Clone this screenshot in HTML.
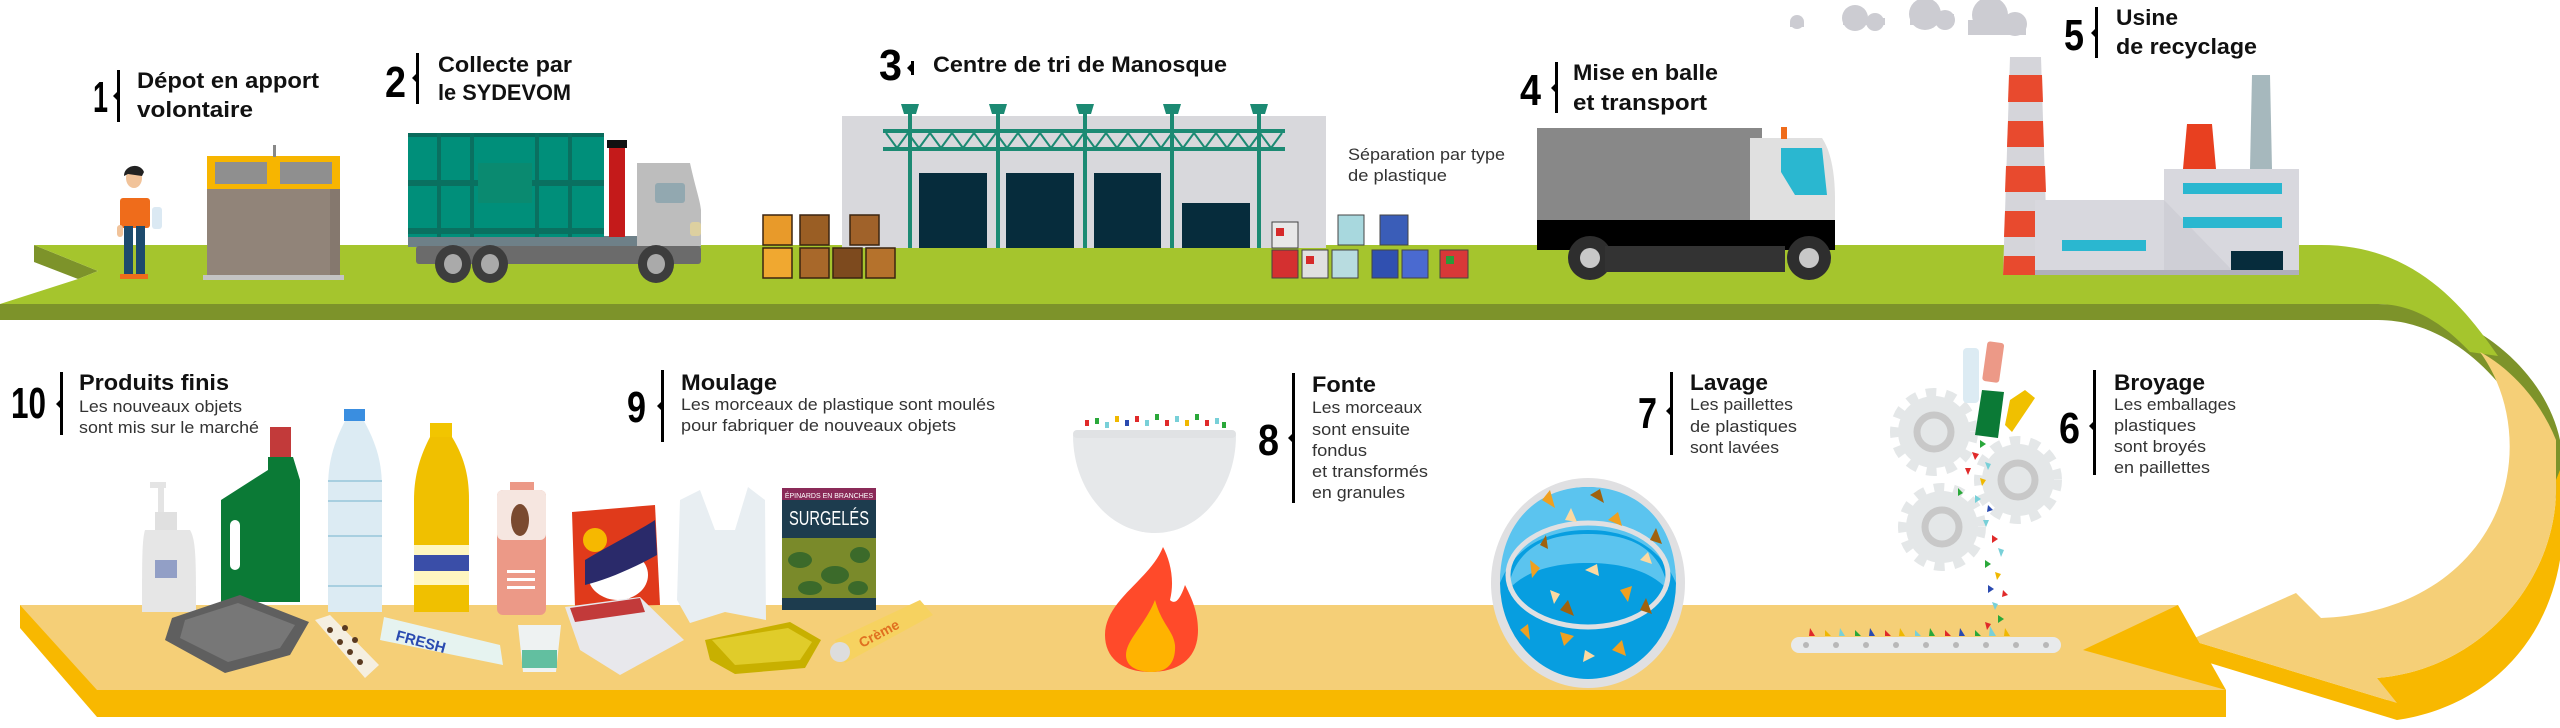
<!DOCTYPE html>
<html><head><meta charset="utf-8"><style>
html,body{margin:0;padding:0;background:#fff;}
svg{display:block;}
text{font-family:"Liberation Sans",sans-serif;}
.t{font-weight:bold;font-size:22px;fill:#111;}
.n{font-weight:bold;font-size:44px;fill:#000;}
.b{font-size:17px;fill:#333;}
</style></head><body>
<svg width="2560" height="728" viewBox="0 0 2560 728" xmlns="http://www.w3.org/2000/svg">

<!-- ===== GREEN BAND ===== -->
<path d="M0,304 L2378,304 C2470,304 2545,370 2560,440 L2560,520 C2545,420 2470,320 2378,320 L0,320 Z" fill="#7d932a"/>
<path d="M34,245 L98,271 L78,279 L34,262 Z" fill="#7d932a"/>
<path d="M34,245 L2321,245 C2410,245 2460,300 2498,356 L2470,352 C2440,320 2410,304 2378,304 L0,304 L78,279 L98,271 Z" fill="#a5c52d"/>

<!-- ===== YELLOW ARROW ===== -->
<path d="M2377,678 C2480,670 2560,580 2556,480 L2560,470 L2560,560 C2545,650 2480,708 2397,720 Z" fill="#f8b800"/>
<path d="M2190,640 L2190,657 L2397,720 L2397,703 Z" fill="#f8b800"/>
<path d="M2480,352 C2515,400 2520,470 2490,525 C2460,580 2400,615 2321,618 L2296,593 L2190,640 L2397,703 L2377,678 C2480,670 2560,580 2556,480 L2556,440 C2540,400 2510,368 2480,352 Z" fill="#f5cf77"/>

<!-- ===== YELLOW BAND ===== -->
<path d="M20,605 L20,628 L97,717 L2226,717 L2226,690 L2178,605 Z" fill="#f8b800"/>
<path d="M20,605 L2178,605 L2083,650 L2226,690 L97,690 Z" fill="#f5cf77"/>

<!-- ===== STEP 1 ===== -->
<rect x="207" y="156" width="133" height="123" fill="#918479"/>
<rect x="330" y="156" width="10" height="123" fill="#85786e"/>
<rect x="207" y="156" width="133" height="33" fill="#f7b500"/>
<rect x="215" y="162" width="52" height="22" fill="#8f8f8f"/>
<rect x="280" y="162" width="52" height="22" fill="#8f8f8f"/>
<rect x="273" y="145" width="3" height="12" fill="#888"/>
<rect x="203" y="275" width="141" height="5" fill="#c4c4c4"/>
<ellipse cx="134" cy="178" rx="8" ry="10" fill="#f1c39a"/>
<path d="M124,176 C124,165 140,162 144,172 L142,176 L128,174 Z" fill="#222"/>
<rect x="120" y="198" width="30" height="30" rx="3" fill="#ef6c1b"/>
<rect x="124" y="226" width="9" height="50" fill="#1d4a6d"/>
<rect x="136" y="226" width="9" height="50" fill="#1d4a6d"/>
<rect x="120" y="274" width="14" height="5" fill="#ef6c1b"/>
<rect x="134" y="274" width="14" height="5" fill="#ef6c1b"/>
<rect x="152" y="207" width="10" height="22" rx="3" fill="#dbe9f3"/>
<rect x="117" y="225" width="6" height="12" rx="3" fill="#f1c39a"/>

<!-- ===== STEP 2 truck ===== -->
<rect x="408" y="236" width="293" height="11" fill="#6e8088"/>
<rect x="416" y="246" width="285" height="18" rx="3" fill="#6b6b6b"/>
<rect x="408" y="133" width="196" height="104" fill="#008f7a"/>
<rect x="408" y="133" width="196" height="4" fill="#0a6b5c"/>
<g fill="#0a7060">
<rect x="437" y="133" width="4" height="104"/><rect x="470" y="133" width="4" height="104"/>
<rect x="535" y="133" width="4" height="104"/><rect x="568" y="133" width="4" height="104"/>
<rect x="408" y="180" width="196" height="6" /><rect x="408" y="228" width="196" height="6"/>
</g>
<rect x="478" y="163" width="54" height="40" fill="#0a8a70"/>
<rect x="609" y="145" width="16" height="92" fill="#c41a1a"/>
<rect x="607" y="140" width="20" height="8" fill="#111"/>
<path d="M637,163 L690,163 C696,190 700,200 701,210 L701,246 L637,246 Z" fill="#bdbdbd"/>
<rect x="655" y="183" width="30" height="20" rx="3" fill="#92a8b0"/>
<rect x="690" y="222" width="11" height="14" rx="3" fill="#ddd0a0"/>
<g fill="#3d3d3d"><ellipse cx="453" cy="264" rx="18" ry="19"/><ellipse cx="490" cy="264" rx="18" ry="19"/><ellipse cx="656" cy="264" rx="18" ry="19"/></g>
<g fill="#aaa"><ellipse cx="453" cy="264" rx="9" ry="10"/><ellipse cx="490" cy="264" rx="9" ry="10"/><ellipse cx="656" cy="264" rx="9" ry="10"/></g>

<!-- ===== STEP 3 building ===== -->
<rect x="842" y="116" width="484" height="132" fill="#d8d8dc"/>
<g fill="#062c3c">
<rect x="919" y="173" width="68" height="75"/><rect x="1006" y="173" width="68" height="75"/>
<rect x="1094" y="173" width="67" height="75"/><rect x="1182" y="203" width="68" height="45"/>
</g>
<g fill="#1c8a73">
<rect x="883" y="129" width="402" height="4"/><rect x="883" y="147" width="402" height="4"/>
<rect x="908" y="105" width="4" height="143"/><rect x="996" y="105" width="4" height="143"/>
<rect x="1083" y="105" width="4" height="143"/><rect x="1170" y="105" width="4" height="143"/>
<rect x="1257" y="105" width="4" height="143"/>
<path d="M901,104 h18 l-3,10 h-12 z M989,104 h18 l-3,10 h-12 z M1076,104 h18 l-3,10 h-12 z M1163,104 h18 l-3,10 h-12 z M1250,104 h18 l-3,10 h-12 z"/>
</g>
<polyline points="886,133 897,148 908,133 919,148 930,133 941,148 952,133 963,148 974,133 985,148 996,133 1007,148 1018,133 1029,148 1040,133 1051,148 1062,133 1073,148 1084,133 1095,148 1106,133 1117,148 1128,133 1139,148 1150,133 1161,148 1172,133 1183,148 1194,133 1205,148 1216,133 1227,148 1238,133 1249,148 1260,133 1271,148 1282,133" fill="none" stroke="#1c8a73" stroke-width="2"/>
<g stroke="#3b2410" stroke-width="1.5">
<rect x="763" y="215" width="29" height="30" fill="#e89a2a"/><rect x="800" y="215" width="29" height="30" fill="#9a5e24"/><rect x="850" y="215" width="29" height="30" fill="#a0622a"/>
<rect x="763" y="248" width="29" height="30" fill="#f0a830"/><rect x="800" y="248" width="29" height="30" fill="#a8682a"/><rect x="833" y="248" width="29" height="30" fill="#7d4a1e"/><rect x="866" y="248" width="29" height="30" fill="#b5722c"/>
</g>
<g stroke="#444" stroke-width="1">
<rect x="1272" y="222" width="26" height="26" fill="#e8e8e8"/><rect x="1338" y="215" width="26" height="30" fill="#a8d8de"/><rect x="1380" y="215" width="28" height="30" fill="#3a5db8"/>
<rect x="1272" y="250" width="26" height="28" fill="#d43030"/><rect x="1302" y="250" width="26" height="28" fill="#e0e0e0"/><rect x="1332" y="250" width="26" height="28" fill="#b8dce0"/><rect x="1372" y="250" width="26" height="28" fill="#3050b0"/><rect x="1402" y="250" width="26" height="28" fill="#4a6ad0"/><rect x="1440" y="250" width="28" height="28" fill="#d83838"/>
</g>
<g fill="#d62a2a"><rect x="1276" y="228" width="8" height="8"/><rect x="1306" y="256" width="8" height="8"/><rect x="1446" y="256" width="8" height="8" fill="#2a9a3a"/></g>

<!-- ===== STEP 4 truck ===== -->
<rect x="1537" y="128" width="225" height="92" fill="#888"/>
<path d="M1750,138 L1822,138 C1830,150 1835,170 1835,200 L1835,246 L1750,246 Z" fill="#e0e0e0"/>
<path d="M1781,148 L1822,148 L1827,195 L1795,195 L1781,172 Z" fill="#2ab7d0"/>
<rect x="1781" y="127" width="6" height="12" fill="#ef6c1b"/>
<rect x="1537" y="220" width="298" height="30" fill="#000"/>
<g fill="#2e2e2e"><circle cx="1590" cy="258" r="22"/><circle cx="1809" cy="258" r="22"/></g>
<g fill="#c8c8c8"><circle cx="1590" cy="258" r="10"/><circle cx="1809" cy="258" r="10"/></g>
<rect x="1605" y="246" width="180" height="26" fill="#333"/>

<!-- ===== STEP 5 factory ===== -->
<g fill="#ccccd2">
<circle cx="1797" cy="22" r="7"/><rect x="1790" y="22" width="14" height="5"/>
<circle cx="1855" cy="18" r="13"/><circle cx="1875" cy="22" r="9"/><rect x="1843" y="18" width="42" height="7"/>
<circle cx="1925" cy="14" r="16"/><circle cx="1945" cy="20" r="10"/><rect x="1910" y="14" width="44" height="11"/>
<circle cx="1990" cy="15" r="18"/><circle cx="2015" cy="24" r="12"/><rect x="1968" y="20" width="58" height="15"/>
</g>
<path d="M2010,57 L2041,57 L2048,275 L2003,275 Z" fill="#d5d5da"/>
<g fill="#e84a2e">
<path d="M2009,75 L2042,75 L2043,102 L2008,102 Z"/><path d="M2008,121 L2043,121 L2044,147 L2007,147 Z"/>
<path d="M2006,166 L2045,166 L2046,192 L2005,192 Z"/><path d="M2005,211 L2046,211 L2047,237 L2004,237 Z"/>
<path d="M2004,256 L2047,256 L2048,275 L2003,275 Z"/>
</g>
<rect x="2035" y="200" width="129" height="75" fill="#d8d8de"/>
<rect x="2164" y="169" width="135" height="106" fill="#d8d8de"/>
<path d="M2164,200 L2230,268 L2230,275 L2164,275 Z" fill="#cfcfd6"/>
<path d="M2187,124 L2212,124 L2216,169 L2183,169 Z" fill="#e84020"/>
<path d="M2252,75 L2270,75 L2272,169 L2250,169 Z" fill="#a6b8bd"/>
<g fill="#2ab7d0"><rect x="2183" y="183" width="99" height="11"/><rect x="2183" y="217" width="99" height="11"/><rect x="2062" y="240" width="84" height="11"/></g>
<rect x="2231" y="251" width="52" height="24" fill="#062c3c"/>
<rect x="2035" y="270" width="264" height="5" fill="#b0b0b8"/>

<!-- ===== BOTTOM PRODUCTS ===== -->
<rect x="158" y="482" width="6" height="30" fill="#e4e4e4"/><rect x="150" y="482" width="16" height="6" fill="#e4e4e4"/>
<rect x="155" y="512" width="22" height="18" fill="#e0e0e0"/>
<path d="M145,530 L190,530 C196,540 196,560 196,612 L142,612 C142,560 142,540 145,530 Z" fill="#e6e6e6"/>
<rect x="155" y="560" width="22" height="18" fill="#5a70b0" opacity="0.6"/>
<rect x="270" y="427" width="21" height="30" fill="#c23a3a"/>
<path d="M268,457 L293,457 L300,480 L300,602 L221,602 L221,500 L268,470 Z" fill="#0b7a36"/>
<rect x="230" y="520" width="10" height="50" rx="5" fill="#fff"/>
<rect x="344" y="409" width="21" height="12" fill="#3a8ee0"/>
<path d="M345,421 L364,421 C380,450 382,470 382,490 L382,612 L328,612 L328,490 C328,470 330,450 345,421 Z" fill="#dcebf3"/>
<g fill="#a8cfe0"><rect x="328" y="480" width="54" height="2"/><rect x="328" y="500" width="54" height="2"/><rect x="328" y="535" width="54" height="2"/><rect x="328" y="585" width="54" height="2"/></g>
<rect x="430" y="423" width="22" height="14" fill="#f2c500"/>
<path d="M430,437 L452,437 C466,460 469,480 469,500 L469,612 L414,612 L414,500 C414,480 418,460 430,437 Z" fill="#f0c000"/>
<rect x="414" y="545" width="55" height="40" fill="#fff6c0"/><rect x="414" y="555" width="55" height="16" fill="#3a4ea8"/>
<rect x="510" y="482" width="24" height="12" fill="#ec9987"/>
<rect x="497" y="490" width="49" height="125" rx="6" fill="#ec9987"/>
<rect x="497" y="490" width="49" height="50" rx="6" fill="#f6e6e0"/>
<ellipse cx="520" cy="520" rx="9" ry="16" fill="#7a4a30"/>
<g fill="#fff"><rect x="507" y="570" width="28" height="3"/><rect x="507" y="578" width="28" height="3"/><rect x="507" y="586" width="28" height="3"/></g>
<path d="M572,512 L655,505 L660,605 L575,607 Z" fill="#e03a1b"/>
<ellipse cx="618" cy="575" rx="30" ry="25" fill="#fff"/>
<path d="M585,560 C610,545 640,530 655,520 L657,555 C630,570 605,580 585,585 Z" fill="#2a2a6a"/>
<circle cx="595" cy="540" r="12" fill="#f6b800"/>
<path d="M680,500 L700,490 L715,530 L735,530 L748,487 L765,500 L766,620 L725,612 L690,623 L677,600 Z" fill="#e8eef2"/>
<rect x="782" y="488" width="94" height="122" fill="#7a8a2a"/>
<rect x="782" y="488" width="94" height="50" fill="#1d3c4e"/>
<rect x="782" y="488" width="94" height="12" fill="#8a2a58"/>
<rect x="782" y="598" width="94" height="12" fill="#1d3c4e"/>
<g fill="#3b6a2a"><ellipse cx="800" cy="560" rx="12" ry="8"/><ellipse cx="835" cy="575" rx="14" ry="9"/><ellipse cx="860" cy="555" rx="10" ry="8"/><ellipse cx="810" cy="588" rx="12" ry="7"/><ellipse cx="858" cy="588" rx="10" ry="7"/></g>
<text x="829" y="525" font-size="20" fill="#fff" text-anchor="middle" textLength="80" lengthAdjust="spacingAndGlyphs">SURGELÉS</text>
<text x="829" y="498" font-size="7" fill="#fff" text-anchor="middle">ÉPINARDS EN BRANCHES</text>
<path d="M172,618 L240,595 L309,622 L290,655 L225,673 L165,640 Z" fill="#5f5f5f"/>
<path d="M185,620 L238,603 L295,625 L280,648 L228,662 L180,638 Z" fill="#777"/>
<path d="M315,620 L330,615 L379,665 L365,678 Z" fill="#f5efe0"/>
<g fill="#5a3a20"><circle cx="330" cy="630" r="3"/><circle cx="340" cy="642" r="3"/><circle cx="350" cy="652" r="3"/><circle cx="360" cy="662" r="3"/><circle cx="345" cy="628" r="3"/><circle cx="355" cy="640" r="3"/></g>
<path d="M384,617 L500,645 L503,665 L380,640 Z" fill="#e6f3f0"/>
<text x="395" y="640" font-size="15" font-weight="bold" fill="#2a4ab0" transform="rotate(15 395 640)">FRESH</text>
<path d="M518,625 L561,625 L556,672 L523,672 Z" fill="#eef2f2"/>
<rect x="522" y="650" width="35" height="18" fill="#62bfa0"/>
<path d="M565,607 L640,597 L684,640 L620,675 L580,650 Z" fill="#e8e8ec"/>
<path d="M570,608 L640,598 L645,612 L575,622 Z" fill="#c23a3a"/>
<path d="M705,640 L790,622 L821,640 L805,668 L735,674 L710,660 Z" fill="#c8b000"/>
<path d="M712,640 L788,628 L812,642 L800,660 L735,665 Z" fill="#e0cc2a"/>
<path d="M835,640 L920,600 L933,615 L845,663 Z" fill="#f6d260"/>
<circle cx="840" cy="652" r="10" fill="#ddd"/>
<text x="862" y="648" font-size="14" font-weight="bold" fill="#e07020" transform="rotate(-28 862 648)">Crème</text>

<!-- ===== STEP 8 ===== -->
<path d="M1073,435 L1236,435 C1236,490 1200,533 1155,533 C1110,533 1073,490 1073,435 Z" fill="#e6e8ea"/>
<rect x="1073" y="430" width="163" height="8" rx="4" fill="#e0e2e4"/>
<g>
<rect x="1085" y="420" width="4" height="6" fill="#e02a2a"/><rect x="1095" y="418" width="4" height="6" fill="#2aa83a"/><rect x="1105" y="422" width="4" height="6" fill="#78d0d8"/><rect x="1115" y="416" width="4" height="6" fill="#f0b800"/><rect x="1125" y="420" width="4" height="6" fill="#2a4ab0"/><rect x="1135" y="416" width="4" height="6" fill="#e02a2a"/><rect x="1145" y="420" width="4" height="6" fill="#78d0d8"/><rect x="1155" y="414" width="4" height="6" fill="#2aa83a"/><rect x="1165" y="420" width="4" height="6" fill="#e02a2a"/><rect x="1175" y="416" width="4" height="6" fill="#78d0d8"/><rect x="1185" y="420" width="4" height="6" fill="#f0b800"/><rect x="1195" y="414" width="4" height="6" fill="#2aa83a"/><rect x="1205" y="420" width="4" height="6" fill="#e02a2a"/><rect x="1215" y="418" width="4" height="6" fill="#78d0d8"/><rect x="1222" y="422" width="4" height="6" fill="#2aa83a"/>
</g>
<path d="M1163,547 C1150,580 1105,600 1105,635 C1105,660 1125,672 1150,672 C1180,672 1198,658 1198,630 C1198,610 1190,595 1185,585 C1180,600 1175,605 1170,600 C1175,580 1170,560 1163,547 Z" fill="#ff4a2a"/>
<path d="M1155,600 C1145,625 1126,640 1126,655 C1126,668 1140,672 1152,672 C1168,672 1176,662 1175,645 C1173,630 1162,625 1155,600 Z" fill="#ffb300"/>

<!-- ===== STEP 7 tub ===== -->
<ellipse cx="1588" cy="583" rx="97" ry="105" fill="#e0e0e2"/>
<ellipse cx="1588" cy="583" rx="88" ry="96" fill="#079ee0"/>
<path d="M1500,583 C1500,520 1540,487 1588,487 C1636,487 1676,520 1676,583 C1660,545 1625,530 1588,530 C1550,530 1515,545 1500,583 Z" fill="#5bc4ef"/>
<path d="M1508,590 C1515,545 1550,534 1588,534 C1626,534 1661,545 1668,590 C1650,570 1620,563 1588,563 C1556,563 1526,570 1508,590 Z" fill="#5bc4ef"/>
<ellipse cx="1588" cy="575" rx="80" ry="52" fill="none" stroke="#e0e0e2" stroke-width="5"/>
<g fill="#f0a020"><path d="M1542,500 l8,-10 l5,18 z"/><path d="M1608,520 l10,-8 l4,14 z"/><path d="M1530,560 l10,8 l-8,10 z"/><path d="M1620,590 l12,-4 l-4,16 z"/><path d="M1560,632 l14,4 l-10,10 z"/><path d="M1612,650 l10,-10 l4,16 z"/><path d="M1520,630 l8,-6 l2,16 z"/></g>
<g fill="#fcd9a0"><path d="M1565,520 l6,-12 l6,14 z"/><path d="M1585,570 l12,-6 l2,12 z"/><path d="M1640,560 l8,-8 l4,12 z"/><path d="M1550,590 l10,4 l-6,10 z"/><path d="M1585,650 l10,6 l-12,6 z"/></g>
<g fill="#a0620e"><path d="M1590,495 l10,-6 l4,14 z"/><path d="M1650,540 l6,-12 l6,16 z"/><path d="M1540,545 l6,-10 l2,14 z"/><path d="M1560,610 l8,-10 l6,16 z"/><path d="M1640,610 l6,-12 l6,16 z"/></g>

<!-- ===== STEP 6 gears & conveyor ===== -->
<g fill="#e4e7e8">
<circle cx="1934" cy="432" r="36"/><circle cx="2018" cy="480" r="36"/><circle cx="1942" cy="527" r="36"/>
<g stroke="#e4e7e8" stroke-width="12" stroke-dasharray="10 9"><circle cx="1934" cy="432" r="38" fill="none"/><circle cx="2018" cy="480" r="38" fill="none"/><circle cx="1942" cy="527" r="38" fill="none"/></g>
</g>
<g fill="none" stroke="#c8c8c8" stroke-width="7"><circle cx="1934" cy="432" r="17"/><circle cx="2018" cy="480" r="17"/><circle cx="1942" cy="527" r="17"/></g>
<rect x="1791" y="637" width="270" height="16" rx="8" fill="#e8eaeb"/>
<g fill="#b8b8b8"><circle cx="1806" cy="645" r="3"/><circle cx="1836" cy="645" r="3"/><circle cx="1866" cy="645" r="3"/><circle cx="1896" cy="645" r="3"/><circle cx="1926" cy="645" r="3"/><circle cx="1956" cy="645" r="3"/><circle cx="1986" cy="645" r="3"/><circle cx="2016" cy="645" r="3"/><circle cx="2046" cy="645" r="3"/></g>
<rect x="1963" y="348" width="16" height="55" rx="4" fill="#dcebf3"/>
<rect x="1985" y="342" width="17" height="40" rx="3" fill="#ec9987" transform="rotate(8 1993 360)"/>
<path d="M1982,390 L2004,392 L1998,438 L1975,435 Z" fill="#0b7a36"/>
<path d="M2010,400 L2025,390 L2035,398 L2012,432 L2005,425 Z" fill="#f0c000"/>
<g>
<path d="M1980,440 l6,4 l-6,4z" fill="#2aa83a"/><path d="M1972,452 l7,2 l-4,6z" fill="#e02a2a"/><path d="M1985,462 l6,2 l-3,6z" fill="#78d0d8"/><path d="M1965,468 l6,0 l-3,7z" fill="#e02a2a"/><path d="M1980,478 l6,2 l-4,6z" fill="#f0b800"/><path d="M1958,488 l5,5 l-5,3z" fill="#2aa83a"/><path d="M1975,495 l6,4 l-6,4z" fill="#78d0d8"/><path d="M1988,505 l5,5 l-6,2z" fill="#2a4ab0"/><path d="M1983,520 l6,0 l-3,7z" fill="#78d0d8"/><path d="M1992,535 l6,4 l-6,4z" fill="#e02a2a"/><path d="M1998,548 l6,2 l-3,7z" fill="#78d0d8"/><path d="M1985,560 l6,4 l-6,4z" fill="#2aa83a"/><path d="M1995,572 l6,2 l-4,6z" fill="#f0b800"/><path d="M1988,585 l6,4 l-6,4z" fill="#2a4ab0"/><path d="M2003,590 l5,5 l-6,2z" fill="#e02a2a"/><path d="M1992,602 l6,2 l-3,6z" fill="#78d0d8"/><path d="M1998,615 l6,4 l-6,4z" fill="#2aa83a"/><path d="M1985,622 l6,2 l-4,6z" fill="#e02a2a"/>
<path d="M1810,628 l5,8 l-6,0z" fill="#e02a2a"/><path d="M1825,630 l6,6 l-6,0z" fill="#f0b800"/><path d="M1840,628 l5,8 l-6,0z" fill="#78d0d8"/><path d="M1855,630 l6,6 l-6,0z" fill="#2aa83a"/><path d="M1870,628 l5,8 l-6,0z" fill="#2a4ab0"/><path d="M1885,630 l6,6 l-6,0z" fill="#e02a2a"/><path d="M1900,628 l5,8 l-6,0z" fill="#f0b800"/><path d="M1915,630 l6,6 l-6,0z" fill="#78d0d8"/><path d="M1930,628 l5,8 l-6,0z" fill="#2aa83a"/><path d="M1945,630 l6,6 l-6,0z" fill="#e02a2a"/><path d="M1960,628 l5,8 l-6,0z" fill="#2a4ab0"/><path d="M1975,630 l6,6 l-6,0z" fill="#2aa83a"/><path d="M1990,626 l6,10 l-7,0z" fill="#78d0d8"/><path d="M2005,628 l5,8 l-6,0z" fill="#f0b800"/>
</g>

<!-- ===== LABELS ===== -->
<text class="n" x="93" y="112" textLength="15" lengthAdjust="spacingAndGlyphs">1</text>
<rect x="117" y="70" width="3" height="52" fill="#000"/><path d="M117,92 l-4,4 l4,4z" fill="#000"/>
<text class="t" x="137" y="88" textLength="182" lengthAdjust="spacingAndGlyphs">Dépot en apport</text>
<text class="t" x="137" y="117" textLength="116" lengthAdjust="spacingAndGlyphs">volontaire</text>
<text class="n" x="385" y="97" textLength="21" lengthAdjust="spacingAndGlyphs">2</text>
<rect x="416" y="53" width="3" height="51" fill="#000"/><path d="M416,74 l-4,4 l4,4z" fill="#000"/>
<text class="t" x="438" y="72" textLength="134" lengthAdjust="spacingAndGlyphs">Collecte par</text>
<text class="t" x="438" y="100" textLength="133" lengthAdjust="spacingAndGlyphs">le SYDEVOM</text>
<text class="n" x="879" y="80" textLength="23" lengthAdjust="spacingAndGlyphs">3</text>
<rect x="911" y="61" width="3" height="14" fill="#000"/><path d="M911,64 l-4,4 l4,4z" fill="#000"/>
<text class="t" x="933" y="72" textLength="294" lengthAdjust="spacingAndGlyphs">Centre de tri de Manosque</text>
<text class="b" x="1348" y="160" fill="#555" textLength="157" lengthAdjust="spacingAndGlyphs">Séparation par type</text>
<text class="b" x="1348" y="181" fill="#555" textLength="99" lengthAdjust="spacingAndGlyphs">de plastique</text>
<text class="n" x="1520" y="105" textLength="21" lengthAdjust="spacingAndGlyphs">4</text>
<rect x="1555" y="62" width="3" height="51" fill="#000"/><path d="M1555,84 l-4,4 l4,4z" fill="#000"/>
<text class="t" x="1573" y="80" textLength="145" lengthAdjust="spacingAndGlyphs">Mise en balle</text>
<text class="t" x="1573" y="110" textLength="134" lengthAdjust="spacingAndGlyphs">et transport</text>
<text class="n" x="2064" y="50" textLength="20" lengthAdjust="spacingAndGlyphs">5</text>
<rect x="2095" y="7" width="3" height="51" fill="#000"/><path d="M2095,29 l-4,4 l4,4z" fill="#000"/>
<text class="t" x="2116" y="25" textLength="62" lengthAdjust="spacingAndGlyphs">Usine</text>
<text class="t" x="2116" y="54" textLength="141" lengthAdjust="spacingAndGlyphs">de recyclage</text>
<text class="n" x="11" y="418" textLength="35" lengthAdjust="spacingAndGlyphs">10</text>
<rect x="60" y="372" width="3" height="63" fill="#000"/><path d="M60,400 l-4,4 l4,4z" fill="#000"/>
<text class="t" x="79" y="390" textLength="150" lengthAdjust="spacingAndGlyphs">Produits finis</text>
<text class="b" x="79" y="412" textLength="163" lengthAdjust="spacingAndGlyphs">Les nouveaux objets</text>
<text class="b" x="79" y="433" textLength="180" lengthAdjust="spacingAndGlyphs">sont mis sur le marché</text>
<text class="n" x="627" y="422" textLength="19" lengthAdjust="spacingAndGlyphs">9</text>
<rect x="661" y="370" width="3" height="72" fill="#000"/><path d="M661,402 l-4,4 l4,4z" fill="#000"/>
<text class="t" x="681" y="390" textLength="96" lengthAdjust="spacingAndGlyphs">Moulage</text>
<text class="b" x="681" y="410" textLength="314" lengthAdjust="spacingAndGlyphs">Les morceaux de plastique sont moulés</text>
<text class="b" x="681" y="431" textLength="275" lengthAdjust="spacingAndGlyphs">pour fabriquer de nouveaux objets</text>
<text class="n" x="1258" y="455" textLength="21" lengthAdjust="spacingAndGlyphs">8</text>
<rect x="1292" y="373" width="3" height="130" fill="#000"/><path d="M1292,434 l-4,4 l4,4z" fill="#000"/>
<text class="t" x="1312" y="392" textLength="64" lengthAdjust="spacingAndGlyphs">Fonte</text>
<text class="b" x="1312" y="413" textLength="110" lengthAdjust="spacingAndGlyphs">Les morceaux</text>
<text class="b" x="1312" y="435" textLength="98" lengthAdjust="spacingAndGlyphs">sont ensuite</text>
<text class="b" x="1312" y="456" textLength="55" lengthAdjust="spacingAndGlyphs">fondus</text>
<text class="b" x="1312" y="477" textLength="116" lengthAdjust="spacingAndGlyphs">et transformés</text>
<text class="b" x="1312" y="498" textLength="93" lengthAdjust="spacingAndGlyphs">en granules</text>
<text class="n" x="1638" y="428" textLength="19" lengthAdjust="spacingAndGlyphs">7</text>
<rect x="1670" y="372" width="3" height="83" fill="#000"/><path d="M1670,407 l-4,4 l4,4z" fill="#000"/>
<text class="t" x="1690" y="390" textLength="78" lengthAdjust="spacingAndGlyphs">Lavage</text>
<text class="b" x="1690" y="410" textLength="103" lengthAdjust="spacingAndGlyphs">Les paillettes</text>
<text class="b" x="1690" y="432" textLength="107" lengthAdjust="spacingAndGlyphs">de plastiques</text>
<text class="b" x="1690" y="453" textLength="89" lengthAdjust="spacingAndGlyphs">sont lavées</text>
<text class="n" x="2059" y="443" textLength="21" lengthAdjust="spacingAndGlyphs">6</text>
<rect x="2093" y="370" width="3" height="105" fill="#000"/><path d="M2093,422 l-4,4 l4,4z" fill="#000"/>
<text class="t" x="2114" y="390" textLength="91" lengthAdjust="spacingAndGlyphs">Broyage</text>
<text class="b" x="2114" y="410" textLength="122" lengthAdjust="spacingAndGlyphs">Les emballages</text>
<text class="b" x="2114" y="431" textLength="82" lengthAdjust="spacingAndGlyphs">plastiques</text>
<text class="b" x="2114" y="452" textLength="92" lengthAdjust="spacingAndGlyphs">sont broyés</text>
<text class="b" x="2114" y="473" textLength="96" lengthAdjust="spacingAndGlyphs">en paillettes</text>
</svg>
</body></html>
